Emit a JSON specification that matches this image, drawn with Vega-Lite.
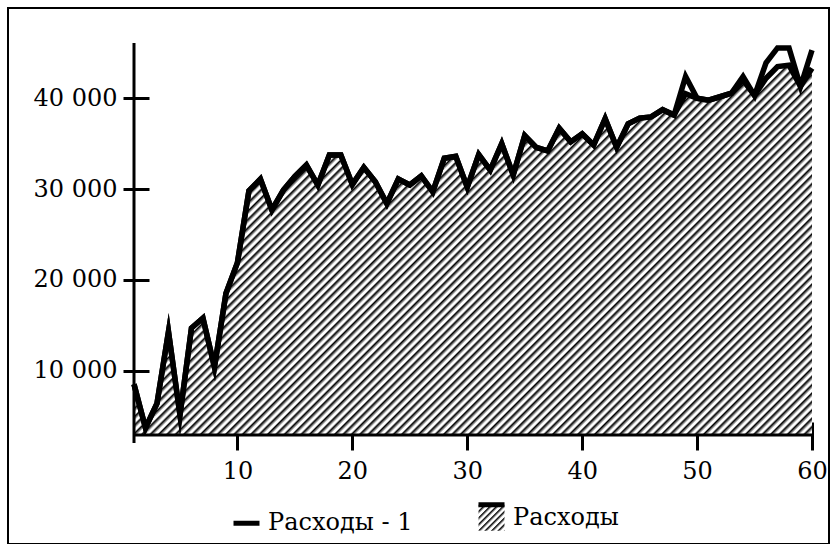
{
  "$schema": "https://vega.github.io/schema/vega-lite/v6.json",
  "width": 821,
  "height": 536,
  "autosize": {"type": "none"},
  "padding": {"left": 8, "top": 8, "right": 8, "bottom": 0},
  "background": "white",
  "config": {
    "font": "DejaVu Serif",
    "view": {"stroke": "black", "strokeWidth": 2},
    "axis": {"domain": false, "grid": false, "tickColor": "black", "tickWidth": 3, "labelFont": "DejaVu Serif", "labelFontSize": 24, "labelColor": "black", "zindex": 1}
  },
  "data": {"values": [
    {"t": 1, "Расходы": 8500, "Расходы - 1": 8500},
    {"t": 2, "Расходы": 3700, "Расходы - 1": 3700},
    {"t": 3, "Расходы": 6400, "Расходы - 1": 6400},
    {"t": 4, "Расходы": 14300, "Расходы - 1": 14300},
    {"t": 5, "Расходы": 5100, "Расходы - 1": 5100},
    {"t": 6, "Расходы": 14700, "Расходы - 1": 14700},
    {"t": 7, "Расходы": 15800, "Расходы - 1": 15800},
    {"t": 8, "Расходы": 10400, "Расходы - 1": 10400},
    {"t": 9, "Расходы": 18500, "Расходы - 1": 18500},
    {"t": 10, "Расходы": 21900, "Расходы - 1": 21900},
    {"t": 11, "Расходы": 29800, "Расходы - 1": 29800},
    {"t": 12, "Расходы": 31100, "Расходы - 1": 31100},
    {"t": 13, "Расходы": 27700, "Расходы - 1": 27700},
    {"t": 14, "Расходы": 29900, "Расходы - 1": 29900},
    {"t": 15, "Расходы": 31400, "Расходы - 1": 31400},
    {"t": 16, "Расходы": 32650, "Расходы - 1": 32650},
    {"t": 17, "Расходы": 30450, "Расходы - 1": 30450},
    {"t": 18, "Расходы": 33750, "Расходы - 1": 33750},
    {"t": 19, "Расходы": 33750, "Расходы - 1": 33750},
    {"t": 20, "Расходы": 30500, "Расходы - 1": 30500},
    {"t": 21, "Расходы": 32400, "Расходы - 1": 32400},
    {"t": 22, "Расходы": 30800, "Расходы - 1": 30800},
    {"t": 23, "Расходы": 28400, "Расходы - 1": 28400},
    {"t": 24, "Расходы": 31100, "Расходы - 1": 31100},
    {"t": 25, "Расходы": 30450, "Расходы - 1": 30450},
    {"t": 26, "Расходы": 31450, "Расходы - 1": 31450},
    {"t": 27, "Расходы": 29700, "Расходы - 1": 29700},
    {"t": 28, "Расходы": 33400, "Расходы - 1": 33400},
    {"t": 29, "Расходы": 33600, "Расходы - 1": 33600},
    {"t": 30, "Расходы": 30200, "Расходы - 1": 30200},
    {"t": 31, "Расходы": 33800, "Расходы - 1": 33800},
    {"t": 32, "Расходы": 32100, "Расходы - 1": 32100},
    {"t": 33, "Расходы": 35000, "Расходы - 1": 35000},
    {"t": 34, "Расходы": 31550, "Расходы - 1": 31550},
    {"t": 35, "Расходы": 35900, "Расходы - 1": 35900},
    {"t": 36, "Расходы": 34600, "Расходы - 1": 34600},
    {"t": 37, "Расходы": 34200, "Расходы - 1": 34200},
    {"t": 38, "Расходы": 36700, "Расходы - 1": 36700},
    {"t": 39, "Расходы": 35200, "Расходы - 1": 35200},
    {"t": 40, "Расходы": 36100, "Расходы - 1": 36100},
    {"t": 41, "Расходы": 34850, "Расходы - 1": 34850},
    {"t": 42, "Расходы": 37750, "Расходы - 1": 37750},
    {"t": 43, "Расходы": 34600, "Расходы - 1": 34600},
    {"t": 44, "Расходы": 37200, "Расходы - 1": 37200},
    {"t": 45, "Расходы": 37820, "Расходы - 1": 37820},
    {"t": 46, "Расходы": 37950, "Расходы - 1": 37950},
    {"t": 47, "Расходы": 38750, "Расходы - 1": 38750},
    {"t": 48, "Расходы": 38150, "Расходы - 1": 38150},
    {"t": 49, "Расходы": 40500, "Расходы - 1": 42400},
    {"t": 50, "Расходы": 40000, "Расходы - 1": 40000},
    {"t": 51, "Расходы": 39800, "Расходы - 1": 39800},
    {"t": 52, "Расходы": 40170, "Расходы - 1": 40170},
    {"t": 53, "Расходы": 40570, "Расходы - 1": 40570},
    {"t": 54, "Расходы": 42000, "Расходы - 1": 42400},
    {"t": 55, "Расходы": 40300, "Расходы - 1": 40300},
    {"t": 56, "Расходы": 42200, "Расходы - 1": 43900},
    {"t": 57, "Расходы": 43500, "Расходы - 1": 45550},
    {"t": 58, "Расходы": 43650, "Расходы - 1": 45550},
    {"t": 59, "Расходы": 41300, "Расходы - 1": 41300},
    {"t": 60, "Расходы": 43300, "Расходы - 1": 45300}
  ]},
  "layer": [
    {
      "mark": {"type": "area", "fill": {"gradient": "linear", "x1": 0, "y1": 0, "x2": 1.191, "y2": 0.65, "stops": [
        {"offset": 0, "color": "#000"}, {"offset": 0.004, "color": "#fff"}, {"offset": 0.006, "color": "#fff"},
        {"offset": 0.008, "color": "#000"}, {"offset": 0.012, "color": "#fff"}, {"offset": 0.014, "color": "#fff"},
        {"offset": 0.016, "color": "#000"}, {"offset": 0.02, "color": "#fff"}, {"offset": 0.022, "color": "#fff"},
        {"offset": 0.024, "color": "#000"}, {"offset": 0.028, "color": "#fff"}, {"offset": 0.03, "color": "#fff"},
        {"offset": 0.032, "color": "#000"}, {"offset": 0.036, "color": "#fff"}, {"offset": 0.038, "color": "#fff"},
        {"offset": 0.04, "color": "#000"}, {"offset": 0.044, "color": "#fff"}, {"offset": 0.046, "color": "#fff"},
        {"offset": 0.048, "color": "#000"}, {"offset": 0.052, "color": "#fff"}, {"offset": 0.054, "color": "#fff"},
        {"offset": 0.056, "color": "#000"}, {"offset": 0.06, "color": "#fff"}, {"offset": 0.062, "color": "#fff"},
        {"offset": 0.064, "color": "#000"}, {"offset": 0.068, "color": "#fff"}, {"offset": 0.07, "color": "#fff"},
        {"offset": 0.072, "color": "#000"}, {"offset": 0.076, "color": "#fff"}, {"offset": 0.078, "color": "#fff"},
        {"offset": 0.08, "color": "#000"}, {"offset": 0.084, "color": "#fff"}, {"offset": 0.086, "color": "#fff"},
        {"offset": 0.088, "color": "#000"}, {"offset": 0.092, "color": "#fff"}, {"offset": 0.094, "color": "#fff"},
        {"offset": 0.096, "color": "#000"}, {"offset": 0.1, "color": "#fff"}, {"offset": 0.102, "color": "#fff"},
        {"offset": 0.104, "color": "#000"}, {"offset": 0.108, "color": "#fff"}, {"offset": 0.11, "color": "#fff"},
        {"offset": 0.112, "color": "#000"}, {"offset": 0.116, "color": "#fff"}, {"offset": 0.118, "color": "#fff"},
        {"offset": 0.12, "color": "#000"}, {"offset": 0.124, "color": "#fff"}, {"offset": 0.126, "color": "#fff"},
        {"offset": 0.128, "color": "#000"}, {"offset": 0.132, "color": "#fff"}, {"offset": 0.134, "color": "#fff"},
        {"offset": 0.136, "color": "#000"}, {"offset": 0.14, "color": "#fff"}, {"offset": 0.142, "color": "#fff"},
        {"offset": 0.144, "color": "#000"}, {"offset": 0.148, "color": "#fff"}, {"offset": 0.15, "color": "#fff"},
        {"offset": 0.152, "color": "#000"}, {"offset": 0.156, "color": "#fff"}, {"offset": 0.158, "color": "#fff"},
        {"offset": 0.16, "color": "#000"}, {"offset": 0.164, "color": "#fff"}, {"offset": 0.166, "color": "#fff"},
        {"offset": 0.168, "color": "#000"}, {"offset": 0.172, "color": "#fff"}, {"offset": 0.174, "color": "#fff"},
        {"offset": 0.176, "color": "#000"}, {"offset": 0.18, "color": "#fff"}, {"offset": 0.182, "color": "#fff"},
        {"offset": 0.184, "color": "#000"}, {"offset": 0.188, "color": "#fff"}, {"offset": 0.19, "color": "#fff"},
        {"offset": 0.192, "color": "#000"}, {"offset": 0.196, "color": "#fff"}, {"offset": 0.198, "color": "#fff"},
        {"offset": 0.2, "color": "#000"}, {"offset": 0.204, "color": "#fff"}, {"offset": 0.206, "color": "#fff"},
        {"offset": 0.208, "color": "#000"}, {"offset": 0.212, "color": "#fff"}, {"offset": 0.214, "color": "#fff"},
        {"offset": 0.216, "color": "#000"}, {"offset": 0.22, "color": "#fff"}, {"offset": 0.222, "color": "#fff"},
        {"offset": 0.224, "color": "#000"}, {"offset": 0.228, "color": "#fff"}, {"offset": 0.23, "color": "#fff"},
        {"offset": 0.232, "color": "#000"}, {"offset": 0.236, "color": "#fff"}, {"offset": 0.238, "color": "#fff"},
        {"offset": 0.24, "color": "#000"}, {"offset": 0.244, "color": "#fff"}, {"offset": 0.246, "color": "#fff"},
        {"offset": 0.248, "color": "#000"}, {"offset": 0.252, "color": "#fff"}, {"offset": 0.254, "color": "#fff"},
        {"offset": 0.256, "color": "#000"}, {"offset": 0.26, "color": "#fff"}, {"offset": 0.262, "color": "#fff"},
        {"offset": 0.264, "color": "#000"}, {"offset": 0.268, "color": "#fff"}, {"offset": 0.27, "color": "#fff"},
        {"offset": 0.272, "color": "#000"}, {"offset": 0.276, "color": "#fff"}, {"offset": 0.278, "color": "#fff"},
        {"offset": 0.28, "color": "#000"}, {"offset": 0.284, "color": "#fff"}, {"offset": 0.286, "color": "#fff"},
        {"offset": 0.288, "color": "#000"}, {"offset": 0.292, "color": "#fff"}, {"offset": 0.294, "color": "#fff"},
        {"offset": 0.296, "color": "#000"}, {"offset": 0.3, "color": "#fff"}, {"offset": 0.302, "color": "#fff"},
        {"offset": 0.304, "color": "#000"}, {"offset": 0.308, "color": "#fff"}, {"offset": 0.31, "color": "#fff"},
        {"offset": 0.312, "color": "#000"}, {"offset": 0.316, "color": "#fff"}, {"offset": 0.318, "color": "#fff"},
        {"offset": 0.32, "color": "#000"}, {"offset": 0.324, "color": "#fff"}, {"offset": 0.326, "color": "#fff"},
        {"offset": 0.328, "color": "#000"}, {"offset": 0.332, "color": "#fff"}, {"offset": 0.334, "color": "#fff"},
        {"offset": 0.336, "color": "#000"}, {"offset": 0.34, "color": "#fff"}, {"offset": 0.342, "color": "#fff"},
        {"offset": 0.344, "color": "#000"}, {"offset": 0.348, "color": "#fff"}, {"offset": 0.35, "color": "#fff"},
        {"offset": 0.352, "color": "#000"}, {"offset": 0.356, "color": "#fff"}, {"offset": 0.358, "color": "#fff"},
        {"offset": 0.36, "color": "#000"}, {"offset": 0.364, "color": "#fff"}, {"offset": 0.366, "color": "#fff"},
        {"offset": 0.368, "color": "#000"}, {"offset": 0.372, "color": "#fff"}, {"offset": 0.374, "color": "#fff"},
        {"offset": 0.376, "color": "#000"}, {"offset": 0.38, "color": "#fff"}, {"offset": 0.382, "color": "#fff"},
        {"offset": 0.384, "color": "#000"}, {"offset": 0.388, "color": "#fff"}, {"offset": 0.39, "color": "#fff"},
        {"offset": 0.392, "color": "#000"}, {"offset": 0.396, "color": "#fff"}, {"offset": 0.398, "color": "#fff"},
        {"offset": 0.4, "color": "#000"}, {"offset": 0.404, "color": "#fff"}, {"offset": 0.406, "color": "#fff"},
        {"offset": 0.408, "color": "#000"}, {"offset": 0.412, "color": "#fff"}, {"offset": 0.414, "color": "#fff"},
        {"offset": 0.416, "color": "#000"}, {"offset": 0.42, "color": "#fff"}, {"offset": 0.422, "color": "#fff"},
        {"offset": 0.424, "color": "#000"}, {"offset": 0.428, "color": "#fff"}, {"offset": 0.43, "color": "#fff"},
        {"offset": 0.432, "color": "#000"}, {"offset": 0.436, "color": "#fff"}, {"offset": 0.438, "color": "#fff"},
        {"offset": 0.44, "color": "#000"}, {"offset": 0.444, "color": "#fff"}, {"offset": 0.446, "color": "#fff"},
        {"offset": 0.448, "color": "#000"}, {"offset": 0.452, "color": "#fff"}, {"offset": 0.454, "color": "#fff"},
        {"offset": 0.456, "color": "#000"}, {"offset": 0.46, "color": "#fff"}, {"offset": 0.462, "color": "#fff"},
        {"offset": 0.464, "color": "#000"}, {"offset": 0.468, "color": "#fff"}, {"offset": 0.47, "color": "#fff"},
        {"offset": 0.472, "color": "#000"}, {"offset": 0.476, "color": "#fff"}, {"offset": 0.478, "color": "#fff"},
        {"offset": 0.48, "color": "#000"}, {"offset": 0.484, "color": "#fff"}, {"offset": 0.486, "color": "#fff"},
        {"offset": 0.488, "color": "#000"}, {"offset": 0.492, "color": "#fff"}, {"offset": 0.494, "color": "#fff"},
        {"offset": 0.496, "color": "#000"}, {"offset": 0.5, "color": "#fff"}, {"offset": 0.502, "color": "#fff"},
        {"offset": 0.504, "color": "#000"}, {"offset": 0.508, "color": "#fff"}, {"offset": 0.51, "color": "#fff"},
        {"offset": 0.512, "color": "#000"}, {"offset": 0.516, "color": "#fff"}, {"offset": 0.518, "color": "#fff"},
        {"offset": 0.52, "color": "#000"}, {"offset": 0.524, "color": "#fff"}, {"offset": 0.526, "color": "#fff"},
        {"offset": 0.528, "color": "#000"}, {"offset": 0.532, "color": "#fff"}, {"offset": 0.534, "color": "#fff"},
        {"offset": 0.536, "color": "#000"}, {"offset": 0.54, "color": "#fff"}, {"offset": 0.542, "color": "#fff"},
        {"offset": 0.544, "color": "#000"}, {"offset": 0.548, "color": "#fff"}, {"offset": 0.55, "color": "#fff"},
        {"offset": 0.552, "color": "#000"}, {"offset": 0.556, "color": "#fff"}, {"offset": 0.558, "color": "#fff"},
        {"offset": 0.56, "color": "#000"}, {"offset": 0.564, "color": "#fff"}, {"offset": 0.566, "color": "#fff"},
        {"offset": 0.568, "color": "#000"}, {"offset": 0.572, "color": "#fff"}, {"offset": 0.574, "color": "#fff"},
        {"offset": 0.576, "color": "#000"}, {"offset": 0.58, "color": "#fff"}, {"offset": 0.582, "color": "#fff"},
        {"offset": 0.584, "color": "#000"}, {"offset": 0.588, "color": "#fff"}, {"offset": 0.59, "color": "#fff"},
        {"offset": 0.592, "color": "#000"}, {"offset": 0.596, "color": "#fff"}, {"offset": 0.598, "color": "#fff"},
        {"offset": 0.6, "color": "#000"}, {"offset": 0.604, "color": "#fff"}, {"offset": 0.606, "color": "#fff"},
        {"offset": 0.608, "color": "#000"}, {"offset": 0.612, "color": "#fff"}, {"offset": 0.614, "color": "#fff"},
        {"offset": 0.616, "color": "#000"}, {"offset": 0.62, "color": "#fff"}, {"offset": 0.622, "color": "#fff"},
        {"offset": 0.624, "color": "#000"}, {"offset": 0.628, "color": "#fff"}, {"offset": 0.63, "color": "#fff"},
        {"offset": 0.632, "color": "#000"}, {"offset": 0.636, "color": "#fff"}, {"offset": 0.638, "color": "#fff"},
        {"offset": 0.64, "color": "#000"}, {"offset": 0.644, "color": "#fff"}, {"offset": 0.646, "color": "#fff"},
        {"offset": 0.648, "color": "#000"}, {"offset": 0.652, "color": "#fff"}, {"offset": 0.654, "color": "#fff"},
        {"offset": 0.656, "color": "#000"}, {"offset": 0.66, "color": "#fff"}, {"offset": 0.662, "color": "#fff"},
        {"offset": 0.664, "color": "#000"}, {"offset": 0.668, "color": "#fff"}, {"offset": 0.67, "color": "#fff"},
        {"offset": 0.672, "color": "#000"}, {"offset": 0.676, "color": "#fff"}, {"offset": 0.678, "color": "#fff"},
        {"offset": 0.68, "color": "#000"}, {"offset": 0.684, "color": "#fff"}, {"offset": 0.686, "color": "#fff"},
        {"offset": 0.688, "color": "#000"}, {"offset": 0.692, "color": "#fff"}, {"offset": 0.694, "color": "#fff"},
        {"offset": 0.696, "color": "#000"}, {"offset": 0.7, "color": "#fff"}, {"offset": 0.702, "color": "#fff"},
        {"offset": 0.704, "color": "#000"}, {"offset": 0.708, "color": "#fff"}, {"offset": 0.71, "color": "#fff"},
        {"offset": 0.712, "color": "#000"}, {"offset": 0.716, "color": "#fff"}, {"offset": 0.718, "color": "#fff"},
        {"offset": 0.72, "color": "#000"}, {"offset": 0.724, "color": "#fff"}, {"offset": 0.726, "color": "#fff"},
        {"offset": 0.728, "color": "#000"}, {"offset": 0.732, "color": "#fff"}, {"offset": 0.734, "color": "#fff"},
        {"offset": 0.736, "color": "#000"}, {"offset": 0.74, "color": "#fff"}, {"offset": 0.742, "color": "#fff"},
        {"offset": 0.744, "color": "#000"}, {"offset": 0.748, "color": "#fff"}, {"offset": 0.75, "color": "#fff"},
        {"offset": 0.752, "color": "#000"}, {"offset": 0.756, "color": "#fff"}, {"offset": 0.758, "color": "#fff"},
        {"offset": 0.76, "color": "#000"}, {"offset": 0.764, "color": "#fff"}, {"offset": 0.766, "color": "#fff"},
        {"offset": 0.768, "color": "#000"}, {"offset": 0.772, "color": "#fff"}, {"offset": 0.774, "color": "#fff"},
        {"offset": 0.776, "color": "#000"}, {"offset": 0.78, "color": "#fff"}, {"offset": 0.782, "color": "#fff"},
        {"offset": 0.784, "color": "#000"}, {"offset": 0.788, "color": "#fff"}, {"offset": 0.79, "color": "#fff"},
        {"offset": 0.792, "color": "#000"}, {"offset": 0.796, "color": "#fff"}, {"offset": 0.798, "color": "#fff"},
        {"offset": 0.8, "color": "#000"}, {"offset": 0.804, "color": "#fff"}, {"offset": 0.806, "color": "#fff"},
        {"offset": 0.808, "color": "#000"}, {"offset": 0.812, "color": "#fff"}, {"offset": 0.814, "color": "#fff"},
        {"offset": 0.816, "color": "#000"}, {"offset": 0.82, "color": "#fff"}, {"offset": 0.822, "color": "#fff"},
        {"offset": 0.824, "color": "#000"}, {"offset": 0.828, "color": "#fff"}, {"offset": 0.83, "color": "#fff"},
        {"offset": 0.832, "color": "#000"}, {"offset": 0.836, "color": "#fff"}, {"offset": 0.838, "color": "#fff"},
        {"offset": 0.84, "color": "#000"}, {"offset": 0.844, "color": "#fff"}, {"offset": 0.846, "color": "#fff"},
        {"offset": 0.848, "color": "#000"}, {"offset": 0.852, "color": "#fff"}, {"offset": 0.854, "color": "#fff"},
        {"offset": 0.856, "color": "#000"}, {"offset": 0.86, "color": "#fff"}, {"offset": 0.862, "color": "#fff"},
        {"offset": 0.864, "color": "#000"}, {"offset": 0.868, "color": "#fff"}, {"offset": 0.87, "color": "#fff"},
        {"offset": 0.872, "color": "#000"}, {"offset": 0.876, "color": "#fff"}, {"offset": 0.878, "color": "#fff"},
        {"offset": 0.88, "color": "#000"}, {"offset": 0.884, "color": "#fff"}, {"offset": 0.886, "color": "#fff"},
        {"offset": 0.888, "color": "#000"}, {"offset": 0.892, "color": "#fff"}, {"offset": 0.894, "color": "#fff"},
        {"offset": 0.896, "color": "#000"}, {"offset": 0.9, "color": "#fff"}, {"offset": 0.902, "color": "#fff"},
        {"offset": 0.904, "color": "#000"}, {"offset": 0.908, "color": "#fff"}, {"offset": 0.91, "color": "#fff"},
        {"offset": 0.912, "color": "#000"}, {"offset": 0.916, "color": "#fff"}, {"offset": 0.918, "color": "#fff"},
        {"offset": 0.92, "color": "#000"}, {"offset": 0.924, "color": "#fff"}, {"offset": 0.926, "color": "#fff"},
        {"offset": 0.928, "color": "#000"}, {"offset": 0.932, "color": "#fff"}, {"offset": 0.934, "color": "#fff"},
        {"offset": 0.936, "color": "#000"}, {"offset": 0.94, "color": "#fff"}, {"offset": 0.942, "color": "#fff"},
        {"offset": 0.944, "color": "#000"}, {"offset": 0.948, "color": "#fff"}, {"offset": 0.95, "color": "#fff"},
        {"offset": 0.952, "color": "#000"}, {"offset": 0.956, "color": "#fff"}, {"offset": 0.958, "color": "#fff"},
        {"offset": 0.96, "color": "#000"}, {"offset": 0.964, "color": "#fff"}, {"offset": 0.966, "color": "#fff"},
        {"offset": 0.968, "color": "#000"}, {"offset": 0.972, "color": "#fff"}, {"offset": 0.974, "color": "#fff"},
        {"offset": 0.976, "color": "#000"}, {"offset": 0.98, "color": "#fff"}, {"offset": 0.982, "color": "#fff"},
        {"offset": 0.984, "color": "#000"}, {"offset": 0.988, "color": "#fff"}, {"offset": 0.99, "color": "#fff"},
        {"offset": 0.992, "color": "#000"}, {"offset": 0.996, "color": "#fff"}, {"offset": 0.998, "color": "#fff"},
        {"offset": 1, "color": "#000"}
      ]}},
      "encoding": {
        "x": {"field": "t", "type": "quantitative", "scale": {"domain": [-9.965, 61.479], "nice": false, "zero": false},
          "axis": {"values": [10, 20, 30, 40, 50, 60], "tickSize": 28, "offset": -122, "labelPadding": 9, "labelFlush": false, "labelOverlap": false, "title": null, "labelFont": "DejaVu Serif"}},
        "y": {"field": "Расходы", "type": "quantitative", "scale": {"domain": [-9085, 49945], "nice": false, "zero": false},
          "axis": {"values": [10000, 20000, 30000, 40000], "tickSize": 26, "offset": -141, "labelPadding": 6, "labelOverlap": false, "labelExpr": "replace(format(datum.value, ','), ',', ' ')", "title": null, "labelFont": "DejaVu Serif"}},
        "y2": {"datum": 2919}
      }
    },
    {
      "transform": [{"fold": ["Расходы - 1", "Расходы"], "as": ["s", "v"]}],
      "mark": {"type": "line", "strokeWidth": 5.5, "strokeJoin": "miter", "strokeMiterLimit": 10, "strokeCap": "butt"},
      "encoding": {
        "x": {"field": "t", "type": "quantitative", "scale": {"domain": [-9.965, 61.479], "nice": false, "zero": false}},
        "y": {"field": "v", "type": "quantitative", "scale": {"domain": [-9085, 49945], "nice": false, "zero": false}},
        "color": {"field": "s", "type": "nominal",
          "scale": {"domain": ["Расходы - 1", "Расходы"], "range": ["black", "black"]},
          "legend": {
            "orient": "none", "legendX": 223, "legendY": 494, "direction": "horizontal", "title": null,
            "symbolType": "stroke", "symbolSize": 676, "symbolStrokeWidth": 5, "symbolStrokeColor": "black",
            "labelFont": "DejaVu Serif", "labelFontSize": 24, "labelColor": "black", "labelOffset": 6, "labelLimit": 0,
            "columnPadding": 55, "padding": 0,
            "encode": {"symbols": {"update": {
              "shape": [{"test": "datum.value === 'Расходы'", "value": "square"}, {"value": "stroke"}],
              "fill": [{"test": "datum.value === 'Расходы'", "value": {"gradient": "linear", "x1": 0, "y1": 0, "x2": 1, "y2": 1, "stops": [
                {"offset": 0, "color": "#000"}, {"offset": 0.0625, "color": "#fff"}, {"offset": 0.1, "color": "#fff"}, {"offset": 0.125, "color": "#000"}, {"offset": 0.1875, "color": "#fff"}, {"offset": 0.225, "color": "#fff"},
                {"offset": 0.25, "color": "#000"}, {"offset": 0.3125, "color": "#fff"}, {"offset": 0.35, "color": "#fff"}, {"offset": 0.375, "color": "#000"}, {"offset": 0.4375, "color": "#fff"}, {"offset": 0.475, "color": "#fff"},
                {"offset": 0.5, "color": "#000"}, {"offset": 0.5625, "color": "#fff"}, {"offset": 0.6, "color": "#fff"}, {"offset": 0.625, "color": "#000"}, {"offset": 0.6875, "color": "#fff"}, {"offset": 0.725, "color": "#fff"},
                {"offset": 0.75, "color": "#000"}, {"offset": 0.8125, "color": "#fff"}, {"offset": 0.85, "color": "#fff"}, {"offset": 0.875, "color": "#000"}, {"offset": 0.9375, "color": "#fff"}, {"offset": 0.975, "color": "#fff"},
                {"offset": 1, "color": "#000"}
              ]}}, {"value": "transparent"}],
              "strokeDash": {"value": [26, 78]}
            }}}
          }
        }
      }
    },
    {
      "data": {"values": [{}]},
      "mark": {"type": "rule", "color": "black", "strokeWidth": 3},
      "encoding": {
        "x": {"datum": 1, "type": "quantitative"},
        "x2": {"datum": 60},
        "y": {"datum": 2919, "type": "quantitative"}
      }
    },
    {
      "data": {"values": [{}]},
      "mark": {"type": "rule", "color": "black", "strokeWidth": 3},
      "encoding": {
        "x": {"datum": 1, "type": "quantitative"},
        "y": {"datum": 2040, "type": "quantitative"},
        "y2": {"datum": 46090}
      }
    }
  ]
}
